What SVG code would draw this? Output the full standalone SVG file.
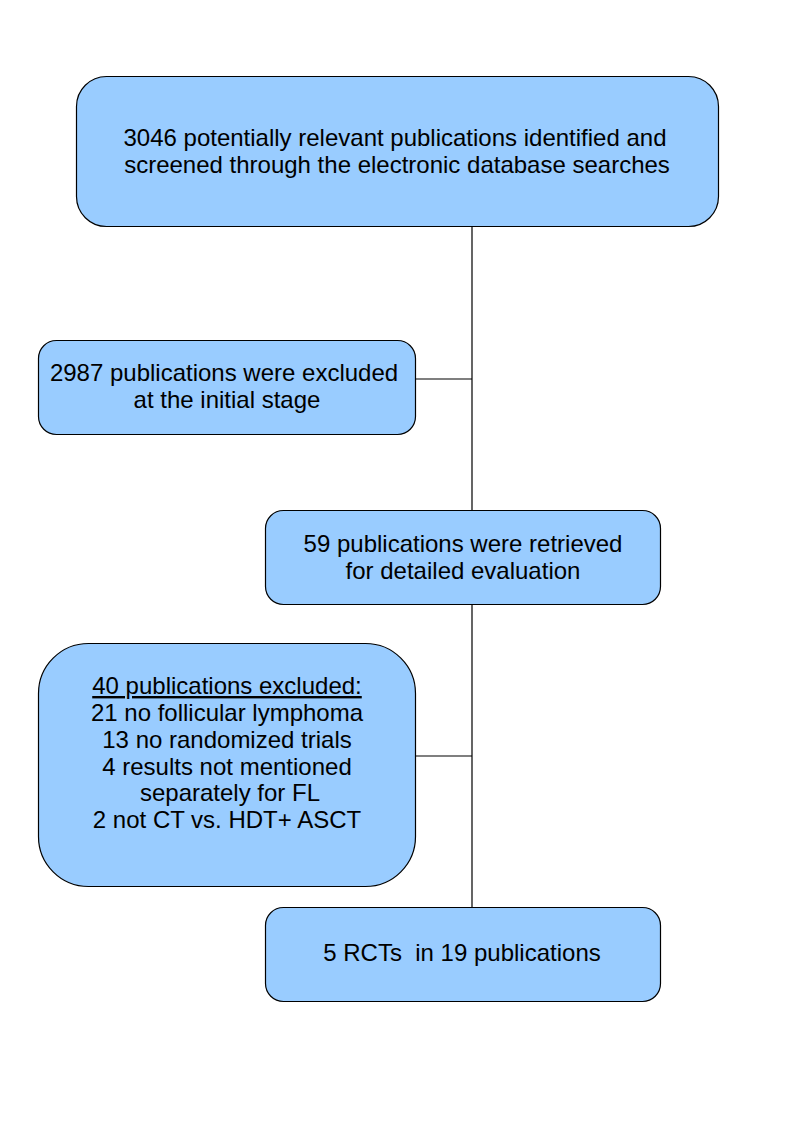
<svg xmlns="http://www.w3.org/2000/svg" width="794" height="1123" viewBox="0 0 794 1123">
<style>
.box{fill:#99CCFF;stroke:#000;stroke-width:1.2}
.t{font-family:"Liberation Sans",Arial,sans-serif;font-size:24px;fill:#000;text-anchor:middle}
.c{stroke:#000;stroke-width:1.2;fill:none}
</style>
<rect width="794" height="1123" fill="#fff"/>
<g id="connectors">
<path class="c" d="M472 227V510M472 605V907M416 379H472M416 756H472"/>
</g>
<g id="n1">
<rect class="box" x="76.5" y="76.5" width="642" height="150" rx="30"/>
<text class="t" x="395" y="146">3046 potentially relevant publications identified and</text>
<text class="t" x="397" y="173">screened through the electronic database searches</text>
</g>
<g id="n2">
<rect class="box" x="38.5" y="340.5" width="377" height="94" rx="18"/>
<text class="t" x="224" y="381">2987 publications were excluded</text>
<text class="t" x="227" y="408">at the initial stage</text>
</g>
<g id="n3">
<rect class="box" x="265.5" y="510.5" width="395" height="94" rx="18"/>
<text class="t" x="463" y="552">59 publications were retrieved</text>
<text class="t" x="463" y="579">for detailed evaluation</text>
</g>
<g id="n4">
<rect class="box" x="38.5" y="643.5" width="377" height="243" rx="50"/>
<text class="t" x="227" y="694" text-decoration="underline">40 publications excluded:</text>
<text class="t" x="227" y="721">21 no follicular lymphoma</text>
<text class="t" x="227" y="748">13 no randomized trials</text>
<text class="t" x="227" y="775">4 results not mentioned</text>
<text class="t" x="230" y="801">separately for FL</text>
<text class="t" x="227" y="828">2 not CT vs. HDT+ ASCT</text>
</g>
<g id="n5">
<rect class="box" x="265.5" y="907.5" width="395" height="94" rx="18"/>
<text class="t" x="462" y="961" xml:space="preserve">5 RCTs  in 19 publications</text>
</g>
</svg>
